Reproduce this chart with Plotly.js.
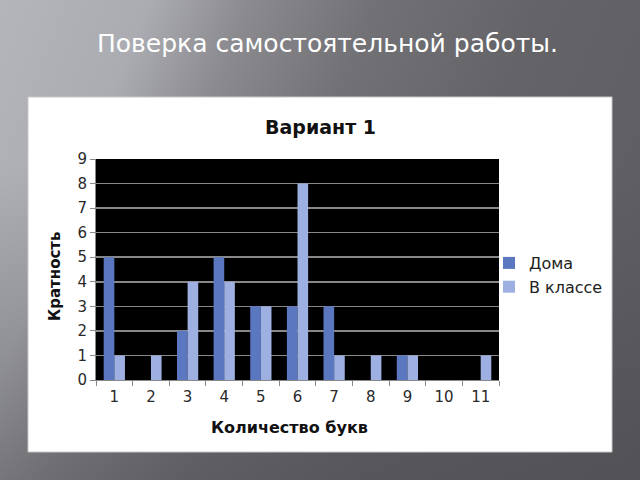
<!DOCTYPE html>
<html>
<head>
<meta charset="utf-8">
<script src="https://cdn.plot.ly/plotly-3.0.1.min.js"></script>
<style>
html,body{margin:0;padding:0;width:640px;height:480px;overflow:hidden;}
body{background:
  linear-gradient(to bottom, rgba(70,70,75,0) 0%, rgba(70,70,75,0) 35%, rgba(70,70,75,0.45) 100%),
  linear-gradient(112deg,#b4b5bb 0%,#abacb1 18%,#8a8a8f 30%,#727176 45%,#646368 65%,#5c5b60 100%);}
#chart{width:640px;height:480px;}
</style>
</head>
<body>
<div id="chart"></div>
<script>
const categories = ["1","2","3","4","5","6","7","8","9","10","11"];
const doma = [5,0,2,5,3,3,3,0,1,0,0];
const vKlasse = [1,1,4,4,3,8,1,1,1,0,1];
const seriesNames = ["Дома","В классе"];

const L=96,R=499,T=159,B=380,W=640,H=480;
const pw=R-L, ph=B-T;
const px=x=>(x-L)/pw, py=y=>(B-y)/ph;

const traces=[
 {type:'bar',name:seriesNames[0],x:categories,y:doma,marker:{color:'#5b77c0'}},
 {type:'bar',name:seriesNames[1],x:categories,y:vKlasse,marker:{color:'#9eb0e1'}}
];
const layout={
 width:W,height:H,
 margin:{l:L,r:W-R,t:T,b:H-B,pad:0},
 paper_bgcolor:'rgba(0,0,0,0)',plot_bgcolor:'#000',
 font:{family:'DejaVu Sans, sans-serif',color:'#333'},
 barmode:'group',bargap:0.42,bargroupgap:0,
 showlegend:true,
 legend:{x:px(489),y:py(246),xanchor:'left',yanchor:'top',font:{size:16,color:'#222'},bgcolor:'rgba(0,0,0,0)',itemwidth:30},
 xaxis:{type:'category',tickson:'boundaries',ticks:'outside',ticklen:5,tickcolor:'#888',showline:true,linecolor:'#888',linewidth:1,
   tickfont:{size:15,color:'#2a2a2a'},showgrid:false,ticklabelstandoff:3},
 yaxis:{range:[0,9],dtick:1,ticks:'outside',ticklen:5,tickcolor:'#888',showline:true,linecolor:'#888',linewidth:1,
   gridcolor:'#888',gridwidth:1.5,zeroline:false,tickfont:{size:15,color:'#2a2a2a'}},
 shapes:[
  {type:'rect',xref:'paper',yref:'paper',x0:px(28),x1:px(612),y0:py(452),y1:py(97),fillcolor:'#fff',line:{color:'#c8c8c8',width:1},layer:'below'},
  {type:'rect',xref:'paper',yref:'paper',x0:0,x1:1,y0:0,y1:1,fillcolor:'#000',line:{width:0},layer:'below'}
 ],
 annotations:[
  {text:'Поверка самостоятельной работы.',xref:'paper',yref:'paper',x:px(327),y:py(43),xanchor:'center',yanchor:'middle',showarrow:false,font:{size:25,color:'#fff',family:'DejaVu Sans, sans-serif'}},
  {text:'<b>Вариант 1</b>',xref:'paper',yref:'paper',x:px(320),y:py(127),xanchor:'center',yanchor:'middle',showarrow:false,font:{size:19,color:'#111'}},
  {text:'<b>Количество букв</b>',xref:'paper',yref:'paper',x:px(289),y:py(427),xanchor:'center',yanchor:'middle',showarrow:false,font:{size:16,color:'#111'}},
  {text:'<b>Кратность</b>',xref:'paper',yref:'paper',x:px(55),y:py(276),xanchor:'center',yanchor:'middle',textangle:-90,showarrow:false,font:{size:15,color:'#111'}}
 ]
};
Plotly.newPlot('chart',traces,layout,{displayModeBar:false,staticPlot:true});
</script>
</body>
</html>
